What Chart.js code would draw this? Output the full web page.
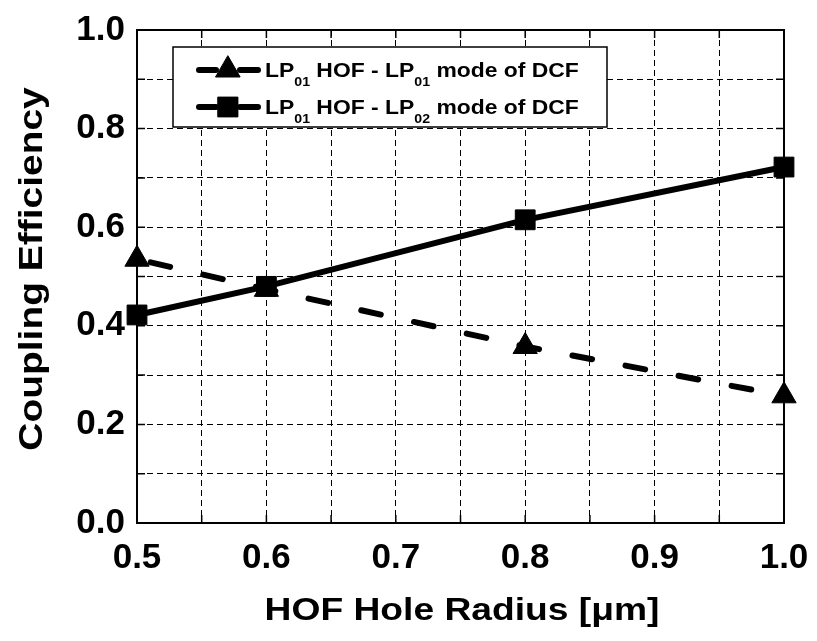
<!DOCTYPE html>
<html>
<head>
<meta charset="utf-8">
<script src="https://cdn.jsdelivr.net/npm/chart.js@4.4.1/dist/chart.umd.min.js"></script>
<style>
  body { margin: 0; background: #fff; }
</style>
</head>
<body>
<canvas id="myChart" width="817" height="641"></canvas>
<script>
// radio del hueco y eficiencias de acoplamiento
const radios = [0.5, 0.6, 0.8, 1.0];
const eficienciaLP01 = [0.535, 0.474, 0.358, 0.258];
const eficienciaLP02 = [0.422, 0.48, 0.615, 0.722];
const ticksX = ['0.5', '0.6', '0.7', '0.8', '0.9', '1.0'];
const ticksY = ['0.0', '0.2', '0.4', '0.6', '0.8', '1.0'];

const fuente = '"Liberation Sans", Arial, sans-serif';

const puntos = (ys) => radios.map((x, i) => ({ x: x, y: ys[i] }));

// texto con subindices: [texto, esSub]
const textoSub = (ctx, partes, x, y) => {
    let px = x;
    partes.forEach(([txt, sub]) => {
        ctx.font = sub ? 'bold 13px ' + fuente : 'bold 21px ' + fuente;
        ctx.fillText(txt, px, sub ? y + 9 : y);
        px += ctx.measureText(txt).width;
    });
};

const marco = {
    id: 'marco',
    beforeDatasetsDraw(chart) {
        const { ctx, chartArea: a, scales } = chart;
        ctx.save();
        ctx.strokeStyle = '#000';
        ctx.lineWidth = 1.5;
        ctx.beginPath();
        scales.x.ticks.forEach(t => {
            const px = scales.x.getPixelForValue(t.value);
            ctx.moveTo(px, a.bottom); ctx.lineTo(px, a.bottom - 8);
            ctx.moveTo(px, a.top); ctx.lineTo(px, a.top + 8);
        });
        scales.y.ticks.forEach(t => {
            const py = scales.y.getPixelForValue(t.value);
            ctx.moveTo(a.left, py); ctx.lineTo(a.left + 8, py);
            ctx.moveTo(a.right, py); ctx.lineTo(a.right - 8, py);
        });
        ctx.stroke();
        ctx.lineWidth = 2;
        ctx.strokeRect(a.left, a.top, a.right - a.left, a.bottom - a.top);
        ctx.restore();
    },
    afterDraw(chart) {
        const { ctx } = chart;
        ctx.save();
        ctx.fillStyle = '#000';
        ctx.textAlign = 'center';
        ctx.textBaseline = 'alphabetic';

        // titulos de los ejes
        ctx.font = 'bold 31px ' + fuente;
        ctx.save();
        ctx.translate(462, 620);
        ctx.scale(1.2, 1);
        ctx.fillText('HOF Hole Radius [\u03bcm]', 0, 0);
        ctx.restore();

        ctx.font = 'bold 33px ' + fuente;
        ctx.save();
        ctx.translate(42, 269);
        ctx.rotate(-Math.PI / 2);
        ctx.scale(1.18, 1);
        ctx.fillText('Coupling Efficiency', 0, 0);
        ctx.restore();

        // leyenda
        ctx.fillStyle = '#fff';
        ctx.fillRect(173, 47, 434, 80);
        ctx.strokeStyle = '#000';
        ctx.lineWidth = 1.5;
        ctx.strokeRect(173, 47, 434, 80);

        const filas = [
            { y: 70, estilo: 'triangle', sub2: '01' },
            { y: 107, estilo: 'rect', sub2: '02' }
        ];
        filas.forEach(f => {
            ctx.lineWidth = 6;
            ctx.lineCap = 'round';
            ctx.beginPath();
            ctx.moveTo(199, f.y); ctx.lineTo(216, f.y);
            ctx.moveTo(240, f.y); ctx.lineTo(258, f.y);
            ctx.stroke();
            ctx.fillStyle = '#000';
            ctx.lineWidth = 1;
            Chart.helpers.drawPoint(ctx, { pointStyle: f.estilo, radius: 14, rotation: 0, borderWidth: 1 }, 228, f.y);
            ctx.fill();
            ctx.save();
            ctx.translate(265, f.y + 7);
            ctx.scale(1.09, 1);
            ctx.textAlign = 'left';
            textoSub(ctx, [['LP', false], ['01', true], [' HOF - LP', false], [f.sub2, true], [' mode of DCF', false]], 0, 0);
            ctx.restore();
        });
        ctx.restore();
    }
};

const ctx = document.getElementById('myChart');

new Chart(ctx, {
    type: 'line',
    data: {
        datasets: [{
            label: 'LP01 HOF - LP01 mode of DCF',
            data: puntos(eficienciaLP01),
            order: 1,
            borderColor: '#000',
            backgroundColor: '#000',
            borderWidth: 6,
            borderDash: [20, 34],
            borderDashOffset: 40,
            borderCapStyle: 'round',
            pointStyle: 'triangle',
            pointRadius: 14,
            pointBorderWidth: 1,
            pointBackgroundColor: '#000',
            pointBorderColor: '#000',
            tension: 0,
            clip: false
        }, {
            label: 'LP01 HOF - LP02 mode of DCF',
            data: puntos(eficienciaLP02),
            order: 0,
            borderColor: '#000',
            backgroundColor: '#000',
            borderWidth: 6,
            borderCapStyle: 'round',
            pointStyle: 'rect',
            pointRadius: 14,
            pointBorderWidth: 1,
            pointBackgroundColor: '#000',
            pointBorderColor: '#000',
            tension: 0,
            clip: false
        }]
    },
    options: {
        responsive: false,
        animation: false,
        events: [],
        layout: { padding: { top: 30, right: 33, left: 0, bottom: 0 } },
        plugins: {
            legend: { display: false },
            tooltip: { enabled: false }
        },
        scales: {
            x: {
                type: 'linear',
                min: 0.5,
                max: 1.0,
                afterFit: (scale) => {
                    scale.height = 118;
                    scale.paddingLeft = 0;
                    scale.paddingRight = 0;
                },
                grid: { color: '#000', lineWidth: 1, drawTicks: false },
                border: { display: false, dash: [6, 4] },
                ticks: {
                    stepSize: 0.05,
                    autoSkip: false,
                    maxRotation: 0,
                    padding: 14,
                    color: '#000',
                    font: { family: fuente, size: 35, weight: 'bold' },
                    callback: (v) => {
                        const lbl = v.toFixed(1);
                        return Math.abs(v * 10 - Math.round(v * 10)) < 1e-6 && ticksX.includes(lbl) ? lbl : '';
                    }
                }
            },
            y: {
                min: 0,
                max: 1.0,
                afterFit: (scale) => {
                    scale.width = 137;
                    scale.paddingTop = 0;
                    scale.paddingBottom = 0;
                },
                grid: { color: '#000', lineWidth: 1, drawTicks: false },
                border: { display: false, dash: [6, 4] },
                ticks: {
                    stepSize: 0.1,
                    autoSkip: false,
                    padding: 12,
                    color: '#000',
                    font: { family: fuente, size: 35, weight: 'bold' },
                    callback: (v) => {
                        const lbl = v.toFixed(1);
                        return ticksY.includes(lbl) && Math.abs(v * 5 - Math.round(v * 5)) < 1e-6 ? lbl : '';
                    }
                }
            }
        }
    },
    plugins: [marco]
});
</script>
</body>
</html>
